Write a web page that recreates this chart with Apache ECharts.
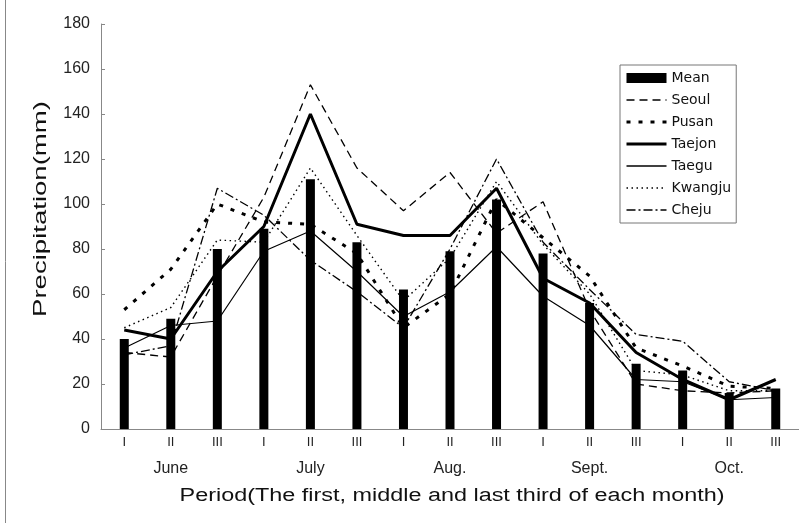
<!DOCTYPE html>
<html>
<head>
<meta charset="utf-8">
<script src="https://cdn.jsdelivr.net/npm/echarts@6/dist/echarts.min.js"></script>
<style>
  html, body { margin: 0; padding: 0; background: #fff; }
  #chart { width: 799px; height: 525px; }
</style>
</head>
<body>
<div id="chart"></div>
<script>
// tick labels: third of month + month under the middle third
const periods = ['I', 'II', 'III', 'I', 'II', 'III', 'I', 'II', 'III', 'I', 'II', 'III', 'I', 'II', 'III']
const months = ['', 'June', '', '', 'July', '', '', 'Aug.', '', '', 'Sept.', '', '', 'Oct.', '']

// precipitation (mm)
const mean = [40, 49, 80, 89, 111, 83, 62, 79, 102, 78, 56, 29, 26, 16, 18]
const seoul = [34, 32, 68, 103, 153, 116, 97, 114, 87, 101, 53, 20, 17, 16, 17]
const pusan = [53, 71, 100, 92, 91, 78, 45, 60, 102, 85, 68, 36, 28, 19, 18]
const taejon = [44, 40, 70, 90, 140, 91, 86, 86, 107, 67, 56, 34, 22, 13, 22]
const taegu = [36, 46, 48, 79, 88, 70, 50, 61, 81, 59, 46, 22, 21, 13, 14]
const kwangju = [45, 54, 84, 83, 116, 86, 57, 76, 110, 82, 60, 26, 24, 17, 17]
const cheju = [33, 37, 107, 95, 75, 61, 45, 80, 120, 83, 62, 42, 39, 21, 17]

const chart = echarts.init(document.getElementById('chart'))
const font = 'Liberation Sans, Arial, sans-serif'

function lineSeries(name, data, width, dash) {
  return {
    name: name,
    type: 'line',
    data: data,
    symbol: 'none',
    z: 2,
    lineStyle: { color: '#000', width: width, type: dash },
    itemStyle: { color: '#000' }
  }
}

// legend entry for a line: keep the line, hide the marker
function lineKey(name, width, dash) {
  return {
    name: name,
    itemStyle: { opacity: 0 },
    lineStyle: { color: '#000', width: width, type: dash }
  }
}

const option = {
  animation: false,
  textStyle: { fontFamily: font },
  grid: { left: 101, right: -6, top: 24, bottom: 96 },
  legend: {
    orient: 'vertical',
    left: 620,
    top: 65,
    padding: [6, 5, 6, 5],
    itemWidth: 40,
    itemHeight: 10,
    itemGap: 8,
    borderColor: '#777',
    borderWidth: 1,
    textStyle: { fontSize: 14, lineHeight: 14, color: '#111', fontFamily: 'DejaVu Sans, sans-serif' },
    data: [
      { name: 'Mean', icon: 'rect' },
      lineKey('Seoul', 1.3, [8, 5]),
      lineKey('Pusan', 3, [4, 8]),
      lineKey('Taejon', 3, 'solid'),
      lineKey('Taegu', 1.5, 'solid'),
      lineKey('Kwangju', 1.4, [1.5, 3.5]),
      lineKey('Cheju', 1.3, [9, 3, 2, 3])
    ]
  },
  xAxis: {
    type: 'category',
    data: periods,
    axisLine: { lineStyle: { color: '#888', width: 1 } },
    axisTick: { inside: true, length: 4, lineStyle: { color: '#888' } },
    axisLabel: {
      interval: 0,
      margin: 5,
      formatter: function (v, i) {
        return months[i] ? '{r|' + v + '}\n{m|' + months[i] + '}' : '{r|' + v + '}'
      },
      rich: {
        r: { fontSize: 13, lineHeight: 16, color: '#222' },
        m: { fontSize: 16, lineHeight: 38, color: '#222' }
      }
    },
    splitLine: { show: false }
  },
  yAxis: {
    type: 'value',
    min: 0,
    max: 180,
    interval: 20,
    axisLine: { show: true, lineStyle: { color: '#888', width: 1 } },
    axisTick: { show: true, inside: true, length: 4, lineStyle: { color: '#888' } },
    axisLabel: { fontSize: 16, color: '#222', margin: 11 },
    splitLine: { show: false }
  },
  graphic: [
    {
      // y axis title, stretched like the original
      type: 'text',
      x: 41,
      y: 209,
      rotation: Math.PI / 2,
      scaleX: 1.45,
      style: {
        text: 'Precipitation(mm)',
        font: '19px ' + font,
        fill: '#111',
        align: 'center',
        verticalAlign: 'middle'
      }
    },
    {
      // x axis title
      type: 'text',
      x: 452,
      y: 496,
      scaleX: 1.3,
      style: {
        text: 'Period(The first, middle and last third of each month)',
        font: '18px ' + font,
        fill: '#111',
        align: 'center',
        verticalAlign: 'middle'
      }
    },
    {
      type: 'line',
      shape: { x1: 5.5, y1: 0, x2: 5.5, y2: 523 },
      style: { stroke: '#888', lineWidth: 1 }
    }
  ],
  series: [
    {
      name: 'Mean',
      type: 'bar',
      data: mean,
      barWidth: 9,
      z: 3,
      itemStyle: { color: '#000' }
    },
    lineSeries('Seoul', seoul, 1.3, [8, 5]),
    lineSeries('Pusan', pusan, 3, [4, 8]),
    lineSeries('Taejon', taejon, 3, 'solid'),
    lineSeries('Taegu', taegu, 1.2, 'solid'),
    lineSeries('Kwangju', kwangju, 1.4, [1.5, 3.5]),
    lineSeries('Cheju', cheju, 1.3, [9, 3, 2, 3])
  ]
}
chart.setOption(option)
</script>
</body>
</html>
